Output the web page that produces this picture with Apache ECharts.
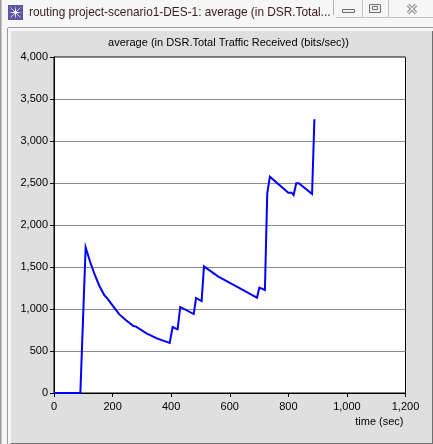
<!DOCTYPE html>
<html>
<head>
<meta charset="utf-8">
<style>html,body{margin:0;padding:0;background:#fff}#c{width:433px;height:444px}</style>
<script src="https://cdn.jsdelivr.net/npm/echarts@6/dist/echarts.min.js"></script>
</head>
<body>
<div id="c"></div>
<script>
const times = [0, 90, 108, 123, 138, 155, 172, 182, 203, 223, 246, 271, 280, 316, 351, 395, 405, 422, 431, 477, 485, 504, 512, 561, 635, 669, 693, 701, 720, 728, 737, 800, 811, 818, 827, 836, 881, 889];
const values = [0, 0, 1733, 1565, 1417, 1274, 1163, 1127, 1028, 936, 865, 798, 790, 710, 651, 595, 786, 758, 1024, 940, 1131, 1095, 1508, 1385, 1246, 1179, 1135, 1254, 1226, 2377, 2575, 2385, 2385, 2357, 2496, 2496, 2369, 3258];
const chartTitle = 'average (in DSR.Total Traffic Received (bits/sec))';
const windowTitle = 'routing project-scenario1-DES-1: average (in DSR.Total...';
const xName = 'time (sec)';
const font = '"Liberation Sans", Arial, sans-serif';

const rect = (x, y, w, h, fill, extra) => ({type:'rect', silent:true, z:-10, shape:{x, y, width:w, height:h}, style:Object.assign({fill}, extra||{})});
const line = (x1, y1, x2, y2, stroke, lw) => ({type:'line', silent:true, z:-9, shape:{x1, y1, x2, y2}, style:{stroke, lineWidth:lw||1}});

const chrome = [
  rect(0, 0, 433, 444, '#f7f7f7'),
  rect(0, 0, 1.5, 444, '#9a9a9a'),
  line(7.5, 28, 7.5, 444, '#9c9c9c', 1),
  line(8, 27.5, 433, 27.5, '#9c9c9c', 1),
  rect(11, 31, 421, 412, '#dfdfdf'),
  line(10.5, 443.5, 433, 443.5, '#6e6e6e', 1),
  line(432.5, 31, 432.5, 444, '#6e6e6e', 1),
  // icon
  rect(8, 5, 15, 15, '#5b55a6'),
  line(10.5, 7.5, 20.5, 17.5, '#cfcdf0', 1),
  line(20.5, 7.5, 10.5, 17.5, '#cfcdf0', 1),
  {type:'polygon', silent:true, z:-8, shape:{points:[[15.5,6],[16.2,11.8],[22,12.5],[16.2,13.2],[15.5,19],[14.8,13.2],[9,12.5],[14.8,11.8]]}, style:{fill:'#ffffff'}},
  // window buttons
  line(333.5, 0, 333.5, 15, '#b5b5b5', 1),
  line(336, 17.5, 433, 17.5, '#c4c4c4', 1),
  line(362.5, 0, 362.5, 17, '#c4c4c4', 1),
  line(388.5, 0, 388.5, 17, '#c4c4c4', 1),
  rect(342.5, 9.5, 12, 3, '#f0f0f0', {stroke:'#707070', lineWidth:1}),
  rect(369.5, 4.5, 11, 8, '#f0f0f0', {stroke:'#707070', lineWidth:1}),
  rect(372.5, 6.5, 5, 3, '#f7f7f7', {stroke:'#707070', lineWidth:1}),
  line(408, 5, 416, 13, '#8a8a8a', 3.4),
  line(416, 5, 408, 13, '#8a8a8a', 3.4),
  line(408, 5, 416, 13, '#e8e8e8', 1.4),
  line(416, 5, 408, 13, '#e8e8e8', 1.4),
  {type:'text', silent:true, z:-7, x:29, y:13, style:{text:windowTitle, fill:'#3a1a1a', font:'11.85px "Liberation Sans", sans-serif', textVerticalAlign:'middle'}}
];

const chart = echarts.init(document.getElementById('c'), null, {renderer:'canvas'});
chart.setOption({
  animation:false,
  backgroundColor:'transparent',
  graphic:{elements:chrome},
  title:{text:chartTitle, left:228.5, top:43, textAlign:'center', textVerticalAlign:'middle',
    textStyle:{fontFamily:font, fontSize:11, fontWeight:'normal', color:'#000'}, padding:0},
  grid:{left:54, right:27.5, top:57, bottom:51, show:true, backgroundColor:'#fff', borderColor:'#000', borderWidth:1, containLabel:false},
  xAxis:{type:'value', min:0, max:1200, interval:200,
    name:xName, nameLocation:'end', nameGap:0,
    nameTextStyle:{fontFamily:font, fontSize:11, color:'#000', align:'right', verticalAlign:'top', padding:[23,2,0,0]},
    axisLine:{show:true, onZero:false, lineStyle:{color:'#000', width:1}},
    axisTick:{show:true, length:4, inside:false, lineStyle:{color:'#000', width:1}},
    axisLabel:{show:true, margin:8, color:'#000', fontFamily:font, fontSize:11, showMinLabel:true, showMaxLabel:true, hideOverlap:false},
    splitLine:{show:false}},
  yAxis:{type:'value', min:0, max:4000, interval:500,
    axisLine:{show:true, onZero:false, lineStyle:{color:'#000', width:1}},
    axisTick:{show:true, length:4, inside:false, lineStyle:{color:'#000', width:1}},
    axisLabel:{show:true, margin:6, color:'#000', fontFamily:font, fontSize:11, showMinLabel:true, showMaxLabel:true, hideOverlap:false},
    splitLine:{show:true, lineStyle:{color:'#8c8c8c', width:1}}},
  series:[{type:'line', data:times.map((t,i)=>[t, values[i]]), showSymbol:false, smooth:false, clip:false,
    lineStyle:{color:'#0000ff', width:2, join:'miter'}, itemStyle:{color:'#0000ff'}}]
});
</script>
</body>
</html>
